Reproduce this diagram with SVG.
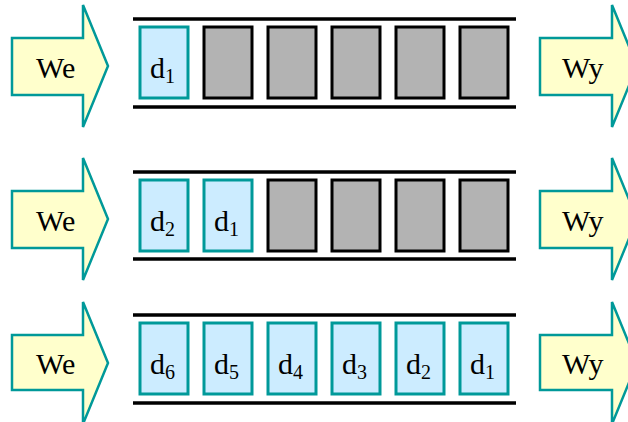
<svg xmlns="http://www.w3.org/2000/svg" width="628" height="422" viewBox="0 0 628 422">
<style>
.arr{fill:#FFFFCC;stroke:#009999;stroke-width:2.5;stroke-linejoin:miter}
.d{fill:#CCECFF;stroke:#009999;stroke-width:3}
.g{fill:#B3B3B3;stroke:#000;stroke-width:3}
.ln{stroke:#000;stroke-width:3.5}
</style>
<rect width="628" height="422" fill="#fff"/>
<g id="connectors"></g>
<g font-family="Liberation Serif, Times New Roman, DejaVu Serif, serif" font-size="30" fill="#000">
<g id="row1">
<g id="we1"><path class="arr" d="M12,38H83V5L108,66L83,127V95H12Z"/><text x="36" y="78">We</text></g>
<g id="wy1"><path class="arr" d="M540,38H612V5L637,66L612,127V95H540Z"/><text x="562" y="78">Wy</text></g>
<g id="pipe1"><line class="ln" x1="133" y1="19" x2="516" y2="19"/><line class="ln" x1="133" y1="107" x2="516" y2="107"/></g>
<g id="r1b1"><rect class="d" x="140" y="27" width="48" height="71"/><text x="150" y="78">d<tspan font-size="20" dy="5">1</tspan></text></g>
<g id="r1b2"><rect class="g" x="204" y="27" width="48" height="71"/></g>
<g id="r1b3"><rect class="g" x="268" y="27" width="48" height="71"/></g>
<g id="r1b4"><rect class="g" x="332" y="27" width="48" height="71"/></g>
<g id="r1b5"><rect class="g" x="396" y="27" width="48" height="71"/></g>
<g id="r1b6"><rect class="g" x="460" y="27" width="48" height="71"/></g>
</g>
<g id="row2" transform="translate(0,153)">
<g id="we2"><path class="arr" d="M12,38H83V5L108,66L83,127V95H12Z"/><text x="36" y="78">We</text></g>
<g id="wy2"><path class="arr" d="M540,38H612V5L637,66L612,127V95H540Z"/><text x="562" y="78">Wy</text></g>
<g id="pipe2"><line class="ln" x1="133" y1="19" x2="516" y2="19"/><line class="ln" x1="133" y1="106" x2="516" y2="106"/></g>
<g id="r2b1"><rect class="d" x="140" y="27" width="48" height="71"/><text x="150" y="78">d<tspan font-size="20" dy="5">2</tspan></text></g>
<g id="r2b2"><rect class="d" x="204" y="27" width="48" height="71"/><text x="214" y="78">d<tspan font-size="20" dy="5">1</tspan></text></g>
<g id="r2b3"><rect class="g" x="268" y="27" width="48" height="71"/></g>
<g id="r2b4"><rect class="g" x="332" y="27" width="48" height="71"/></g>
<g id="r2b5"><rect class="g" x="396" y="27" width="48" height="71"/></g>
<g id="r2b6"><rect class="g" x="460" y="27" width="48" height="71"/></g>
</g>
<g id="row3" transform="translate(0,296)">
<g id="we3"><path class="arr" d="M12,39H83V6L108,67L83,128V94H12Z"/><text x="36" y="78">We</text></g>
<g id="wy3"><path class="arr" d="M540,39H612V6L637,67L612,128V94H540Z"/><text x="562" y="78">Wy</text></g>
<g id="pipe3"><line class="ln" x1="133" y1="19" x2="516" y2="19"/><line class="ln" x1="133" y1="107" x2="516" y2="107"/></g>
<g id="r3b1"><rect class="d" x="140" y="27" width="48" height="71"/><text x="150" y="78">d<tspan font-size="20" dy="5">6</tspan></text></g>
<g id="r3b2"><rect class="d" x="204" y="27" width="48" height="71"/><text x="214" y="78">d<tspan font-size="20" dy="5">5</tspan></text></g>
<g id="r3b3"><rect class="d" x="268" y="27" width="48" height="71"/><text x="278" y="78">d<tspan font-size="20" dy="5">4</tspan></text></g>
<g id="r3b4"><rect class="d" x="332" y="27" width="48" height="71"/><text x="342" y="78">d<tspan font-size="20" dy="5">3</tspan></text></g>
<g id="r3b5"><rect class="d" x="396" y="27" width="48" height="71"/><text x="406" y="78">d<tspan font-size="20" dy="5">2</tspan></text></g>
<g id="r3b6"><rect class="d" x="460" y="27" width="48" height="71"/><text x="470" y="78">d<tspan font-size="20" dy="5">1</tspan></text></g>
</g>
</g>
</svg>
